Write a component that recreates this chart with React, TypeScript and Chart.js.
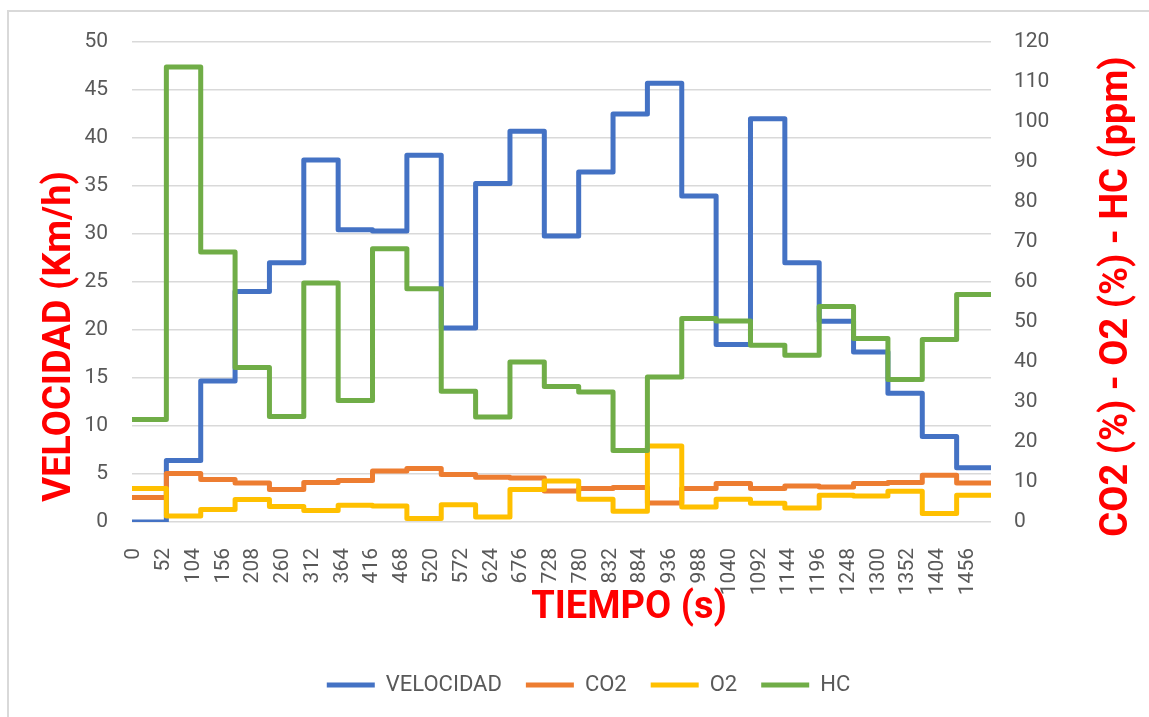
import React, { useEffect, useRef } from "react";
import { Chart, registerables } from "chart.js";

Chart.register(...registerables);

// time (s) at which each measured segment starts; last entry closes the last segment
const timeBreaks = [0, 60, 120, 180, 240, 300, 360, 420, 480, 540, 600, 660, 720, 780, 840, 900, 960, 1020, 1080, 1140, 1200, 1260, 1320, 1380, 1440, 1500];

// x axis tick labels (s)
const timeTicks = [0, 52, 104, 156, 208, 260, 312, 364, 416, 468, 520, 572, 624, 676, 728, 780, 832, 884, 936, 988, 1040, 1092, 1144, 1196, 1248, 1300, 1352, 1404, 1456];

// series values (one per segment)
const velocidad = [0, 6.4, 14.7, 24.0, 27.0, 37.7, 30.45, 30.3, 38.2, 20.2, 35.25, 40.7, 29.8, 36.45, 42.5, 45.7, 33.95, 18.5, 42.0, 27.0, 20.9, 17.7, 13.4, 8.9, 5.65];
const co2 = [6.1, 12.1, 10.6, 9.75, 8.1, 9.9, 10.4, 12.75, 13.35, 11.85, 11.2, 11.0, 7.75, 8.35, 8.6, 4.75, 8.35, 9.6, 8.35, 9.0, 8.75, 9.6, 9.85, 11.7, 9.75];
const o2 = [8.35, 1.5, 3.1, 5.6, 3.9, 2.9, 4.2, 4.0, 0.85, 4.3, 1.25, 8.1, 10.25, 5.7, 2.7, 19.0, 3.75, 5.7, 4.7, 3.5, 6.7, 6.5, 7.7, 2.1, 6.7];
const hc = [25.6, 113.75, 67.5, 38.6, 26.4, 59.75, 30.4, 68.3, 58.3, 32.7, 26.25, 40.0, 33.9, 32.5, 17.9, 36.25, 50.85, 50.25, 44.2, 41.7, 53.9, 45.85, 35.6, 45.6, 56.85];

const seriesNames = ["VELOCIDAD", "CO2", "O2", "HC"];
const seriesColors = ["#4472C4", "#ED7D31", "#FFC000", "#70AD47"];

const xTitle = "TIEMPO (s)";
const yLeftTitle = "VELOCIDAD (Km/h)";
const yRightTitle = "CO2 (%) - O2 (%) - HC (ppm)";

const FONT = "Roboto";
const TICK_COLOR = "#595959";
const GRID_COLOR = "#D9D9D9";

function toSteps(values: number[]) {
  return timeBreaks.map((t, i) => ({ x: t, y: values[Math.min(i, values.length - 1)] }));
}

const decorPlugin = {
  id: "decor",
  beforeDraw(chart: any) {
    const ctx = chart.ctx;
    ctx.save();
    ctx.strokeStyle = GRID_COLOR;
    ctx.lineWidth = 2;
    ctx.beginPath();
    ctx.moveTo(8, chart.height);
    ctx.lineTo(8, 11);
    ctx.lineTo(chart.width, 11);
    ctx.stroke();
    ctx.restore();
  },
  afterDraw(chart: any) {
    const ctx = chart.ctx;
    ctx.save();
    ctx.fillStyle = "#FF0000";
    ctx.font = `bold 38px ${FONT}`;
    ctx.textBaseline = "alphabetic";
    ctx.textAlign = "center";
    ctx.fillText(xTitle, 629, 618);

    ctx.save();
    ctx.translate(70, 336.5);
    ctx.rotate(-Math.PI / 2);
    ctx.fillText(yLeftTitle, 0, 0);
    ctx.restore();

    ctx.save();
    ctx.translate(1127, 296.5);
    ctx.rotate(-Math.PI / 2);
    ctx.fillText(yRightTitle, 0, 0);
    ctx.restore();

    ctx.restore();
  },
};

export default function App() {
  const canvasRef = useRef<HTMLCanvasElement | null>(null);

  useEffect(() => {
    const canvas = canvasRef.current;
    if (!canvas) return;
    const allValues = [velocidad, co2, o2, hc];
    const datasets = seriesNames.map((name, i) => ({
      label: name,
      data: toSteps(allValues[i]),
      yAxisID: i === 0 ? "y" : "y1",
      borderColor: seriesColors[i],
      backgroundColor: seriesColors[i],
      borderWidth: 5,
      borderJoinStyle: "round" as const,
      borderCapStyle: "round" as const,
      pointRadius: 0,
      pointHoverRadius: 0,
      stepped: true,
      fill: false,
      order: seriesNames.length - i,
    }));

    const chart = new Chart(canvas, {
      type: "line",
      data: { datasets },
      plugins: [decorPlugin],
      options: {
        animation: false,
        responsive: false,
        layout: { padding: { left: 28, right: 0, top: 42, bottom: 11 } },
        plugins: {
          tooltip: { enabled: false },
          legend: {
            position: "bottom",
            labels: {
              usePointStyle: true,
              pointStyle: "line",
              pointStyleWidth: 48,
              padding: 24,
              color: TICK_COLOR,
              font: { family: FONT, size: 22 },
              sort: (a: any, b: any) => a.datasetIndex - b.datasetIndex,
            },
          },
        },
        scales: {
          x: {
            type: "linear",
            min: timeBreaks[0],
            max: timeBreaks[timeBreaks.length - 1],
            afterBuildTicks: (scale: any) => {
              scale.ticks = timeTicks.map((v) => ({ value: v }));
            },
            afterFit: (scale: any) => {
              const lh = scale.chart.legend ? scale.chart.legend.height : 0;
              scale.height = 717 - 11 - lh - 522;
            },
            ticks: {
              autoSkip: false,
              minRotation: 90,
              maxRotation: 90,
              padding: 18,
              labelOffset: 2,
              color: TICK_COLOR,
              font: { family: FONT, size: 21 },
              callback: (v: any) => String(v),
            },
            grid: { display: false },
            border: { display: false },
          },
          y: {
            position: "left",
            min: 0,
            max: 50,
            afterFit: (scale: any) => {
              scale.width = 104;
            },
            ticks: {
              stepSize: 5,
              padding: 24,
              color: TICK_COLOR,
              font: { family: FONT, size: 21 },
            },
            grid: { color: GRID_COLOR, lineWidth: 1.5, drawTicks: false },
            border: { display: false },
          },
          y1: {
            position: "right",
            min: 0,
            max: 120,
            afterFit: (scale: any) => {
              scale.width = 158;
            },
            ticks: {
              stepSize: 10,
              padding: 23,
              color: TICK_COLOR,
              font: { family: FONT, size: 21 },
            },
            grid: { display: false, drawTicks: false },
            border: { display: false },
          },
        },
      },
    });
    return () => chart.destroy();
  }, []);

  return (
    <div style={{ position: "absolute", left: 0, top: 0, width: 1149, height: 717, background: "#fff" }}>
      <canvas ref={canvasRef} width={1149} height={717} style={{ display: "block" }} />
    </div>
  );
}
